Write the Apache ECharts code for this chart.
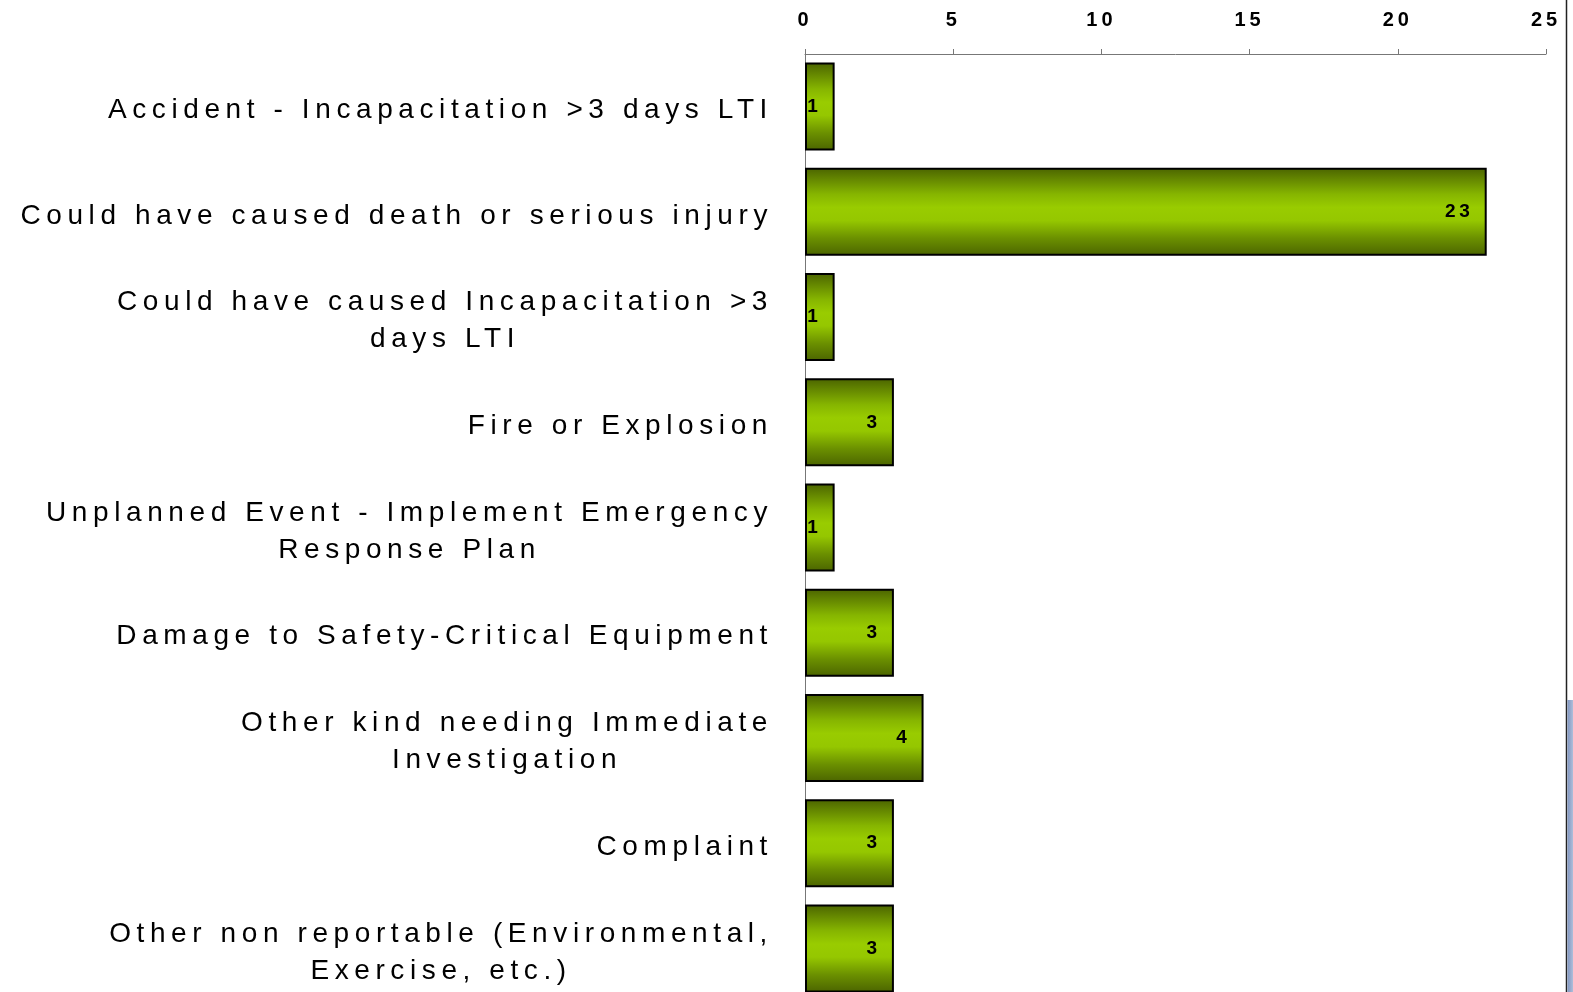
<!DOCTYPE html>
<html>
<head>
<meta charset="utf-8">
<script src="https://cdn.jsdelivr.net/npm/echarts@6/dist/echarts.min.js"></script>
<style>
  html, body { margin: 0; padding: 0; background: #fff; }
  #chart { width: 1573px; height: 992px; }
</style>
</head>
<body>
<div id="chart"></div>
<script>
var categories = [
  "Accident - Incapacitation >3 days LTI",
  "Could have caused death or serious injury",
  "Could have caused Incapacitation >3\ndays LTI",
  "Fire or Explosion",
  "Unplanned Event - Implement Emergency\nResponse Plan",
  "Damage to Safety-Critical Equipment",
  "Other kind needing Immediate\nInvestigation",
  "Complaint",
  "Other non reportable (Environmental,\nExercise, etc.)"
];
var counts = [1, 23, 1, 3, 1, 3, 4, 3, 3];
var axisMin = 0, axisMax = 25, axisStep = 5;

var FONT = "'Liberation Sans', Arial, sans-serif";

// the source chart has widely spaced letters everywhere; canvas supports letterSpacing,
// so hook the text calls to add it (measure + draw stay consistent)
var spacingFor = function (font) {
  var m = /(\d+(?:\.\d+)?)px/.exec(font || "");
  return m ? (parseFloat(m[1]) * 0.2).toFixed(2) + "px" : "0px";
};
["fillText", "strokeText", "measureText"].forEach(function (fn) {
  var orig = CanvasRenderingContext2D.prototype[fn];
  CanvasRenderingContext2D.prototype[fn] = function () {
    this.letterSpacing = spacingFor(this.font);
    return orig.apply(this, arguments);
  };
});

var chart = echarts.init(document.getElementById("chart"), null, { renderer: "canvas" });
chart.setOption({
  animation: false,
  backgroundColor: "#fff",
  grid: { left: 805, right: 27, top: 54, height: 947, outerBoundsMode: "none", containLabel: false },
  xAxis: {
    type: "value",
    position: "top",
    min: axisMin,
    max: axisMax,
    interval: axisStep,
    axisLine: { show: true, lineStyle: { color: "#777", width: 1 } },
    axisTick: { show: true, length: 5, lineStyle: { color: "#777" } },
    splitLine: { show: false },
    axisLabel: { margin: 22, color: "#000", fontWeight: "bold", fontSize: 20, fontFamily: FONT }
  },
  yAxis: {
    type: "category",
    inverse: true,
    data: categories,
    axisLine: { show: true, lineStyle: { color: "#777", width: 1 } },
    axisTick: { show: false },
    axisLabel: {
      interval: 0,
      margin: 32,
      padding: [8, 0, 0, 0],
      formatter: function (v) {
        return v.split("\n").map(function (s) { return "{c|" + s + "}"; }).join("\n");
      },
      rich: {
        c: { align: "center", fontSize: 28, lineHeight: 37, color: "#000", fontFamily: FONT }
      }
    }
  },
  series: [
    {
      type: "bar",
      data: counts,
      barWidth: 88,
      itemStyle: {
        borderColor: "#000",
        borderWidth: 2,
        color: new echarts.graphic.LinearGradient(0, 0, 0, 1, [
          { offset: 0, color: "#4b6400" },
          { offset: 0.3, color: "#86b500" },
          { offset: 0.45, color: "#99cc00" },
          { offset: 0.6, color: "#95c700" },
          { offset: 0.8, color: "#6b9000" },
          { offset: 1, color: "#4b6400" }
        ])
      },
      label: {
        show: true,
        position: "insideRight",
        distance: 13,
        color: "#000",
        fontWeight: "bold",
        fontSize: 19,
        fontFamily: FONT
      }
    }
  ],
  graphic: [
    {
      type: "line",
      shape: { x1: 1566.5, y1: 0, x2: 1566.5, y2: 992 },
      style: { stroke: "#222", lineWidth: 1.5 }
    },
    {
      type: "rect",
      shape: { x: 1567.5, y: 700, width: 6, height: 292 },
      style: {
        fill: new echarts.graphic.LinearGradient(0, 0, 1, 0, [
          { offset: 0, color: "#7f95c0" },
          { offset: 1, color: "#b4c2dc" }
        ])
      }
    }
  ]
});
</script>
</body>
</html>
